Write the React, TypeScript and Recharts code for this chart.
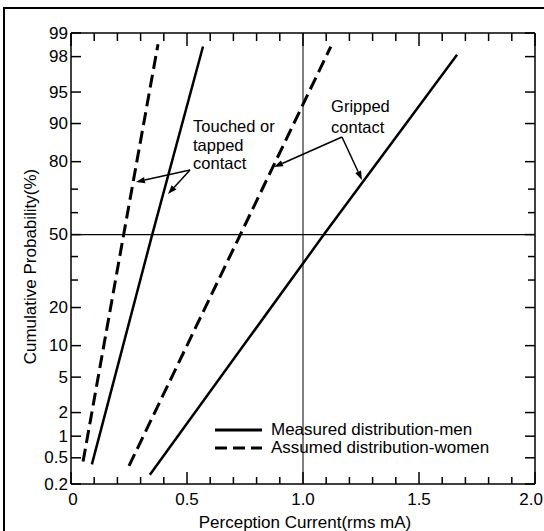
import React from "react";
import { LineChart, Line, XAxis, YAxis, ReferenceLine, ReferenceDot, Legend } from "recharts";

// ---- data (current in rms mA, cumulative probability in %) ----
const menTouchedCurrent = [0.09, 0.35, 0.569];
const menTouchedPct = [0.4, 50, 98.5];
const womenTouchedCurrent = [0.052, 0.227, 0.375];
const womenTouchedPct = [0.44, 50, 98.6];
const menGrippedCurrent = [0.34, 1.09, 1.664];
const menGrippedPct = [0.28, 50, 98.1];
const womenGrippedCurrent = [0.25, 0.73, 1.12];
const womenGrippedPct = [0.38, 50, 98.5];

const percentTicks = [0.2, 0.5, 1, 2, 5, 10, 20, 30, 40, 50, 60, 70, 80, 90, 95, 98, 99];
const labeledPercents = [0.2, 0.5, 1, 2, 5, 10, 20, 50, 80, 90, 95, 98, 99];
const currentTicks = [0, 0.1, 0.2, 0.3, 0.4, 0.5, 0.6, 0.7, 0.8, 0.9, 1.0, 1.1, 1.2, 1.3, 1.4, 1.5, 1.6, 1.7, 1.8, 1.9, 2.0];
const currentLabelValues = [0, 0.5, 1.0, 1.5, 2.0];
const currentLabels = ["0", "0.5", "1.0", "1.5", "2.0"];

const annotationTexts = [
  { x: 0.526, p: 88.1, lines: ["Touched or", "tapped", "contact"], lh: 18.5 },
  { x: 1.121, p: 92.1, lines: ["Gripped", "contact"], lh: 21 },
];
const annotationArrows = [
  { x1: 0.513, p1: 77.2, x2: 0.28, p2: 72.8 },
  { x1: 0.513, p1: 77.2, x2: 0.418, p2: 68 },
  { x1: 1.168, p1: 87, x2: 0.875, p2: 78.2 },
  { x1: 1.168, p1: 87, x2: 1.254, p2: 73.6 },
];
const legendItems = [
  { name: "Measured distribution-men", dashed: false },
  { name: "Assumed distribution-women", dashed: true },
];

// ---- normal probability scale (inverse normal CDF) ----
function probit(p: number): number {
  const a = [-3.969683028665376e1, 2.209460984245205e2, -2.759285104469687e2, 1.38357751867269e2, -3.066479806614716e1, 2.506628277459239];
  const b = [-5.447609879822406e1, 1.615858368580409e2, -1.556989798598866e2, 6.680131188771972e1, -1.328068155288572e1];
  const c = [-7.784894002430293e-3, -3.223964580411365e-1, -2.400758277161838, -2.549732539343734, 4.374664141464968, 2.938163982698783];
  const d = [7.784695709041462e-3, 3.224671290700398e-1, 2.445134137142996, 3.754408661907416];
  const pl = 0.02425;
  if (p < pl) {
    const q = Math.sqrt(-2 * Math.log(p));
    return (((((c[0] * q + c[1]) * q + c[2]) * q + c[3]) * q + c[4]) * q + c[5]) / ((((d[0] * q + d[1]) * q + d[2]) * q + d[3]) * q + 1);
  }
  if (p > 1 - pl) {
    const q = Math.sqrt(-2 * Math.log(1 - p));
    return -(((((c[0] * q + c[1]) * q + c[2]) * q + c[3]) * q + c[4]) * q + c[5]) / ((((d[0] * q + d[1]) * q + d[2]) * q + d[3]) * q + 1);
  }
  const q = p - 0.5;
  const r = q * q;
  return ((((((a[0] * r + a[1]) * r + a[2]) * r + a[3]) * r + a[4]) * r + a[5]) * q) / (((((b[0] * r + b[1]) * r + b[2]) * r + b[3]) * r + b[4]) * r + 1);
}
const z = (pct: number) => probit(pct / 100);

const build = (xs: number[], ps: number[]) => xs.map((x, i) => ({ x, z: z(ps[i]) }));
const menTouched = build(menTouchedCurrent, menTouchedPct);
const womenTouched = build(womenTouchedCurrent, womenTouchedPct);
const menGripped = build(menGrippedCurrent, menGrippedPct);
const womenGripped = build(womenGrippedCurrent, womenGrippedPct);

const zTicks = percentTicks.map(z);
const zDomain = [z(0.2), z(99)];
const FONT = "'Liberation Sans', Arial, Helvetica, sans-serif";

const pctOf = (v: number) => percentTicks.find((p) => Math.abs(z(p) - v) < 1e-6);
const isMajorX = (v: number) => Math.abs(v * 2 - Math.round(v * 2)) < 1e-6;
const labelOfX = (v: number) => {
  const i = currentLabelValues.findIndex((c) => Math.abs(c - v) < 1e-6);
  return i >= 0 ? currentLabels[i] : null;
};

const LeftTick = (props: any) => {
  const { x, y, payload } = props;
  const p = pctOf(payload.value);
  const labeled = p !== undefined && labeledPercents.includes(p);
  return (
    <g>
      <line x1={x} x2={x + (labeled ? 10 : 7)} y1={y} y2={y} stroke="#000" strokeWidth={1.5} />
      {labeled && (
        <text x={x - 3} y={y} textAnchor="end" dominantBaseline="central" fontFamily={FONT} fontSize={17} fill="#000">
          {String(p)}
        </text>
      )}
    </g>
  );
};
const RightTick = (props: any) => {
  const { x, y, payload } = props;
  const p = pctOf(payload.value);
  const labeled = p !== undefined && labeledPercents.includes(p);
  return <line x1={x} x2={x - (labeled ? 10 : 7)} y1={y} y2={y} stroke="#000" strokeWidth={1.5} />;
};
const BottomTick = (props: any) => {
  const { x, y, payload } = props;
  const major = isMajorX(payload.value);
  const lab = labelOfX(payload.value);
  const isFirst = payload.value === 0;
  const isLast = Math.abs(payload.value - 2) < 1e-6;
  return (
    <g>
      <line x1={x} x2={x} y1={y} y2={y - (major ? 12 : 7)} stroke="#000" strokeWidth={1.5} />
      {lab && (
        <text
          x={isLast ? x + 8 : x + (isFirst ? 2 : 0)}
          y={y + 15}
          textAnchor={isLast ? "end" : "middle"}
          dominantBaseline="central"
          fontFamily={FONT}
          fontSize={17}
          fill="#000"
        >
          {lab}
        </text>
      )}
    </g>
  );
};
const TopTick = (props: any) => {
  const { x, y, payload } = props;
  const major = isMajorX(payload.value);
  return <line x1={x} x2={x} y1={y} y2={y + (major ? 13 : 8)} stroke="#000" strokeWidth={1.5} />;
};

const Arrow = (props: any) => {
  const { x1, y1, x2, y2 } = props;
  const dx = x2 - x1;
  const dy = y2 - y1;
  const len = Math.sqrt(dx * dx + dy * dy) || 1;
  const ux = dx / len;
  const uy = dy / len;
  const hl = 9;
  const hw = 3.2;
  const bx = x2 - ux * hl;
  const by = y2 - uy * hl;
  const pts = `${x2},${y2} ${bx - uy * hw},${by + ux * hw} ${bx + uy * hw},${by - ux * hw}`;
  return (
    <g>
      <line x1={x1} y1={y1} x2={bx} y2={by} stroke="#000" strokeWidth={1.5} />
      <polygon points={pts} fill="#000" />
    </g>
  );
};

const makeTextShape = (lines: string[], lh: number) => (props: any) => {
  const { cx, cy } = props;
  return (
    <text x={cx} y={cy} fontFamily={FONT} fontSize={16.5} fill="#000">
      {lines.map((l, i) => (
        <tspan key={i} x={cx} y={cy + i * lh}>
          {l}
        </tspan>
      ))}
    </text>
  );
};

const LegendContent = () => (
  <div style={{ fontFamily: FONT, fontSize: 17, color: "#000", lineHeight: "18px" }}>
    {legendItems.map((it) => (
      <div key={it.name} style={{ display: "flex", alignItems: "center", height: 18, whiteSpace: "nowrap" }}>
        <svg width={56} height={18} style={{ display: "block" }}>
          <line x1={0} x2={47} y1={9} y2={9} stroke="#000" strokeWidth={3} strokeDasharray={it.dashed ? "12 6" : undefined} />
        </svg>
        <span>{it.name}</span>
      </div>
    ))}
  </div>
);

const YLabel = (props: any) => {
  const vb = props.viewBox || { x: 0, y: 0, width: 71, height: 451 };
  const cx = vb.x + 30;
  const cy = vb.y + vb.height / 2 + 8;
  return (
    <text x={cx} y={cy} transform={`rotate(-90 ${cx} ${cy})`} textAnchor="middle" dominantBaseline="central" fontFamily={FONT} fontSize={17} fill="#000">
      Cumulative Probability(%)
    </text>
  );
};
const XLabel = (props: any) => {
  const vb = props.viewBox || { x: 71, y: 484, width: 464, height: 47 };
  const cx = vb.x + vb.width / 2 + 2;
  const cy = vb.y + 38;
  return (
    <text x={cx} y={cy} textAnchor="middle" dominantBaseline="central" fontFamily={FONT} fontSize={17} fill="#000">
      Perception Current(rms mA)
    </text>
  );
};

const axisLine = { stroke: "#000", strokeWidth: 1.5 };

export default function App() {
  return (
    <div style={{ position: "absolute", left: 0, top: 0, width: 544, height: 531, background: "#fff", overflow: "hidden" }}>
      <LineChart width={544} height={531} margin={{ top: 0, right: 0, bottom: 0, left: 0 }}>
        <XAxis
          type="number"
          dataKey="x"
          domain={[0, 2]}
          allowDataOverflow
          ticks={currentTicks}
          interval={0}
          height={47}
          tickLine={false}
          tickSize={0}
          tickMargin={0}
          axisLine={axisLine}
          tick={BottomTick}
          label={{ content: XLabel }}
        />
        <XAxis
          xAxisId="top"
          orientation="top"
          type="number"
          dataKey="x"
          domain={[0, 2]}
          allowDataOverflow
          ticks={currentTicks}
          interval={0}
          height={33}
          tickLine={false}
          tickSize={0}
          tickMargin={0}
          axisLine={axisLine}
          tick={TopTick}
        />
        <YAxis
          type="number"
          domain={zDomain}
          allowDataOverflow
          ticks={zTicks}
          interval={0}
          width={71}
          tickLine={false}
          tickSize={0}
          tickMargin={0}
          axisLine={axisLine}
          tick={LeftTick}
          label={{ content: YLabel }}
        />
        <YAxis
          yAxisId="right"
          orientation="right"
          type="number"
          domain={zDomain}
          allowDataOverflow
          ticks={zTicks}
          interval={0}
          width={9}
          tickLine={false}
          tickSize={0}
          tickMargin={0}
          axisLine={axisLine}
          tick={RightTick}
        />
        <ReferenceLine y={z(50)} stroke="#000" strokeWidth={1.2} />
        <ReferenceLine x={1} stroke="#000" strokeWidth={1} />
        <Line data={womenTouched} dataKey="z" stroke="#000" strokeWidth={3} strokeDasharray="13 6" dot={false} isAnimationActive={false} />
        <Line data={menTouched} dataKey="z" stroke="#000" strokeWidth={2.5} dot={false} isAnimationActive={false} />
        <Line data={womenGripped} dataKey="z" stroke="#000" strokeWidth={3} strokeDasharray="13 6" dot={false} isAnimationActive={false} />
        <Line data={menGripped} dataKey="z" stroke="#000" strokeWidth={2.5} dot={false} isAnimationActive={false} />
        {annotationArrows.map((a, i) => (
          <ReferenceLine
            key={`arr${i}`}
            segment={[
              { x: a.x1, y: z(a.p1) },
              { x: a.x2, y: z(a.p2) },
            ]}
            shape={Arrow}
          />
        ))}
        {annotationTexts.map((t, i) => (
          <ReferenceDot key={`txt${i}`} x={t.x} y={z(t.p)} r={0} shape={makeTextShape(t.lines, t.lh)} />
        ))}
        <Legend
          layout="horizontal"
          verticalAlign="middle"
          align="center"
          content={LegendContent}
          wrapperStyle={{ position: "absolute", left: 215, top: 421, width: "auto" }}
        />
      </LineChart>
      <div
        style={{
          position: "absolute",
          left: 3,
          top: 7,
          right: -4,
          bottom: -4,
          borderTop: "2px solid #000",
          borderLeft: "2px solid #000",
          pointerEvents: "none",
        }}
      />
    </div>
  );
}
